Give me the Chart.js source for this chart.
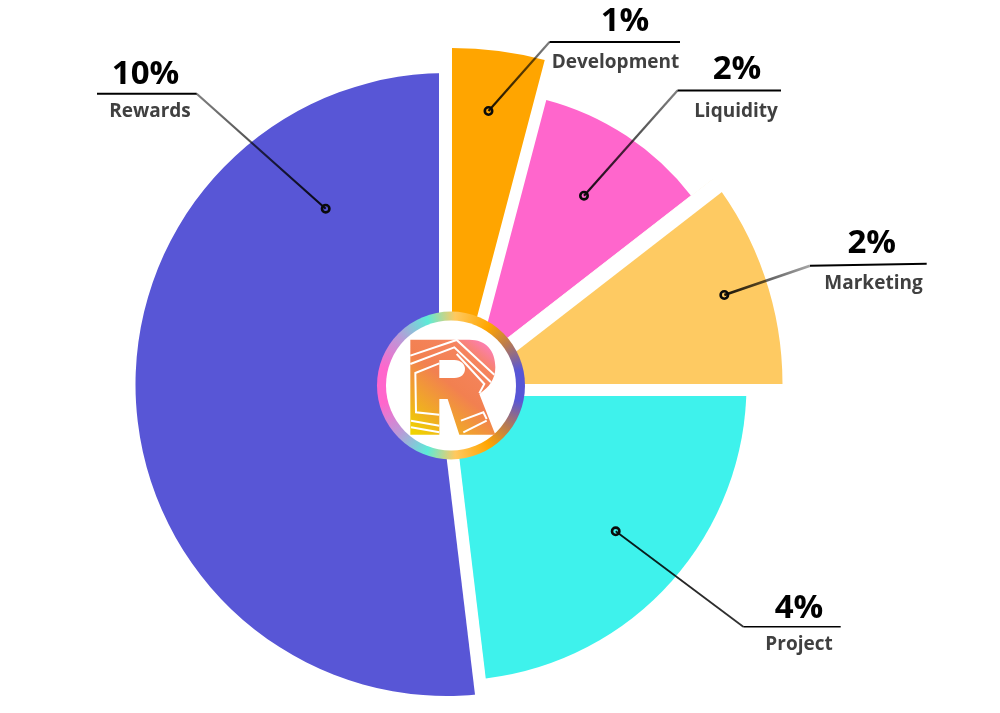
<!DOCTYPE html>
<html>
<head>
<meta charset="utf-8">
<style>html,body{margin:0;padding:0;background:#fff}canvas{display:block}</style>
<script src="https://cdn.jsdelivr.net/npm/chart.js@4"></script>
</head>
<body>
<canvas id="c" width="1000" height="713"></canvas>
<script>
const categories = ['Development', 'Liquidity', 'Marketing', 'Project', 'Rewards'];
const percentLabels = ['1%', '2%', '2%', '4%', '10%'];
const sliceShares = [4.1, 10.4, 10.5, 23.1, 51.9];
const sliceColors = ['#FFA500', '#FF66CC', '#FECA62', '#3EF2EC', '#5856D6'];

// Layout only: each wedge's own arc centre and radius in the picture.
const wedgeLayout = [
  {x: 452, y: 412, r: 364},
  {x: 477.5, y: 361, r: 270},
  {x: 449, y: 384, r: 333.5},
  {x: 450.5, y: 384.5, r: 296},
  {x: 447, y: 384.5, r: 311.5}
];
// White gutters between wedges; "after" is the wedge whose end angle the gutter follows.
const gutters = [
  {after: 4, x: 445.5, y: 390, w: 13},
  {after: 3, x: 444.5, y: 390, w: 12},
  {after: 2, x: 450, y: 390, w: 12},
  {after: 1, x: 460, y: 385, w: 16}
];
// Callouts: dot, elbow, end of rule, percent text and name text.
const callouts = [
  {dot: [488.5, 111], elbow: [549.5, 42], end: [680, 42], lw: 2.2, lw2: 2, fade: .5, pct: [625, 31], name: [615.5, 67.5]},
  {dot: [584, 195.7], elbow: [677.5, 90.5], end: [781, 90.5], lw: 2.2, lw2: 2, fade: .5, pct: [737, 79], name: [736, 116.5]},
  {dot: [724.3, 295], elbow: [810, 265.7], end: [926.7, 263.7], lw: 2.6, lw2: 2, fade: .35, pct: [871.7, 252.5], name: [873.5, 288.5]},
  {dot: [615.7, 531.3], elbow: [743.3, 626.7], end: [840.7, 626.7], lw: 1.8, lw2: 1.4, fade: .8, pct: [799, 617.5], name: [799, 650]},
  {dot: [325.7, 208.7], elbow: [196.7, 93.7], end: [97, 93.7], lw: 2.2, lw2: 2, fade: .5, pct: [145.5, 84], name: [150, 117]}
];
const logoCentre = {x: 451, y: 385.5};

function drawLogo(ctx) {
  const {x, y} = logoCentre;
  const ring = ctx.createConicGradient(0, x, y);
  [[0, '#5856D6'], [.035, '#5856D6'], [.1, '#B87A50'], [.16, '#FFA500'], [.24, '#FFC95F'], [.305, '#5CEBD8'],
   [.38, '#B89AD8'], [.46, '#FF66CC'], [.54, '#FF66CC'], [.62, '#B89AD8'], [.695, '#5CEBD8'],
   [.76, '#FFC95F'], [.84, '#FFA500'], [.9, '#B87A50'], [.965, '#5856D6'], [1, '#5856D6']]
    .forEach(s => ring.addColorStop(s[0], s[1]));
  ctx.beginPath(); ctx.arc(x, y, 74, 0, Math.PI * 2); ctx.fillStyle = ring; ctx.fill();
  ctx.beginPath(); ctx.arc(x, y, 65, 0, Math.PI * 2); ctx.fillStyle = '#fff'; ctx.fill();

  // The R glyph, traced in the reference's 3x zoom crop coordinates.
  const m = (a, b) => [366 + a / 3, 304 + b / 3];
  const grad = ctx.createLinearGradient(...m(150, 390), ...m(380, 110));
  grad.addColorStop(0, '#EFD300'); grad.addColorStop(.18, '#F0B020');
  grad.addColorStop(.5, '#F28050'); grad.addColorStop(.78, '#F5845E'); grad.addColorStop(1, '#FF7CCF');
  ctx.beginPath();
  ctx.moveTo(...m(133, 107)); ctx.lineTo(...m(310, 107));
  ctx.bezierCurveTo(...m(360, 107), ...m(388, 140), ...m(388, 190));
  ctx.bezierCurveTo(...m(388, 225), ...m(370, 250), ...m(340, 270));
  ctx.lineTo(...m(388, 392)); ctx.lineTo(...m(280, 392)); ctx.lineTo(...m(245, 285));
  ctx.lineTo(...m(220, 285)); ctx.lineTo(...m(220, 392)); ctx.lineTo(...m(133, 392));
  ctx.closePath(); ctx.fillStyle = grad; ctx.fill();
  ctx.beginPath();
  ctx.moveTo(...m(220, 168)); ctx.lineTo(...m(265, 168));
  ctx.bezierCurveTo(...m(285, 168), ...m(297, 182), ...m(297, 195));
  ctx.bezierCurveTo(...m(297, 210), ...m(285, 222), ...m(265, 222));
  ctx.lineTo(...m(220, 222)); ctx.closePath(); ctx.fillStyle = '#fff'; ctx.fill();
  ctx.strokeStyle = '#fff'; ctx.lineWidth = 2; ctx.lineJoin = 'miter';
  [
    [[133, 155], [272, 108], [385, 212]],
    [[133, 180], [265, 130], [375, 235]],
    [[220, 178], [148, 207], [150, 325], [220, 332]],
    [[272, 150], [355, 240], [340, 268]],
    [[135, 350], [220, 365]],
    [[135, 370], [220, 385]],
    [[285, 350], [352, 325], [362, 345]],
    [[292, 385], [362, 350]]
  ].forEach(path => {
    ctx.beginPath();
    path.forEach((p, i) => i ? ctx.lineTo(...m(p[0], p[1])) : ctx.moveTo(...m(p[0], p[1])));
    ctx.stroke();
  });
}

const wedgePlugin = {
  id: 'wedges',
  afterDatasetsUpdate(chart) {
    chart.getDatasetMeta(0).data.forEach((el, i) => {
      el.x = wedgeLayout[i].x; el.y = wedgeLayout[i].y; el.outerRadius = wedgeLayout[i].r;
    });
  },
  afterDatasetsDraw(chart) {
    const ctx = chart.ctx, arcs = chart.getDatasetMeta(0).data;
    ctx.save();
    ctx.strokeStyle = '#fff'; ctx.lineCap = 'butt';
    gutters.forEach(g => {
      const a = arcs[g.after].endAngle;
      ctx.lineWidth = g.w;
      ctx.beginPath(); ctx.moveTo(g.x, g.y);
      ctx.lineTo(g.x + Math.cos(a) * 420, g.y + Math.sin(a) * 420); ctx.stroke();
    });
    callouts.forEach((c, i) => {
      const leader = ctx.createLinearGradient(c.dot[0], c.dot[1], c.elbow[0], c.elbow[1]);
      leader.addColorStop(0, 'rgba(0,0,0,.9)');
      leader.addColorStop(1, 'rgba(0,0,0,' + c.fade + ')');
      ctx.strokeStyle = leader; ctx.lineWidth = c.lw;
      ctx.beginPath(); ctx.moveTo(c.dot[0], c.dot[1]); ctx.lineTo(c.elbow[0], c.elbow[1]); ctx.stroke();
      ctx.strokeStyle = '#000'; ctx.lineWidth = c.lw2;
      ctx.beginPath(); ctx.moveTo(c.elbow[0], c.elbow[1]); ctx.lineTo(c.end[0], c.end[1]); ctx.stroke();
      ctx.lineWidth = 2.6; ctx.strokeStyle = '#0a0a0a';
      ctx.beginPath(); ctx.arc(c.dot[0], c.dot[1], 3.7, 0, Math.PI * 2); ctx.stroke();
      ctx.textAlign = 'center'; ctx.textBaseline = 'alphabetic';
      ctx.fillStyle = '#000'; ctx.font = '700 33px "Open Sans"';
      ctx.fillText(percentLabels[i], c.pct[0], c.pct[1]);
      ctx.fillStyle = '#404040'; ctx.font = '700 19px "Open Sans"';
      ctx.fillText(categories[i], c.name[0], c.name[1]);
    });
    drawLogo(ctx);
    ctx.restore();
  }
};

new Chart(document.getElementById('c'), {
  type: 'pie',
  data: {
    labels: categories,
    datasets: [{data: sliceShares, backgroundColor: sliceColors, borderWidth: 0}]
  },
  options: {
    responsive: false,
    animation: false,
    rotation: 0,
    layout: {padding: 0},
    plugins: {legend: {display: false}, tooltip: {enabled: false}}
  },
  plugins: [wedgePlugin]
});
</script>
</body>
</html>
